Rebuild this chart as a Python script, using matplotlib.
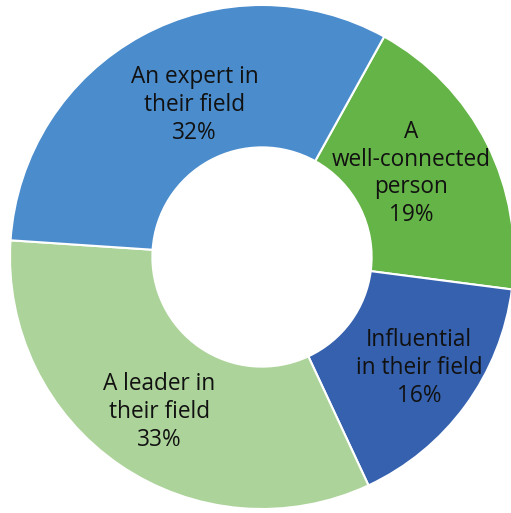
import numpy as np
import matplotlib.pyplot as plt

labels = ['A\nwell-connected\nperson', 'Influential\nin their field',
          'A leader in\ntheir field', 'An expert in\ntheir field']
values = [19, 16, 33, 32]
colors = ['#65b447', '#3561ae', '#acd39a', '#4a8ccc']

fig = plt.figure(figsize=(5.11, 5.13), dpi=100)
# pie centre at (262, 257) px, outer radius 252 px
ax = fig.add_axes([10 / 511, 4 / 513, 504 / 511, 504 / 513])

wedges, _ = ax.pie(values, colors=colors, startangle=61, counterclock=False,
                   radius=1, wedgeprops=dict(width=0.565, edgecolor='white', linewidth=1.5))
ax.set_xlim(-1, 1)
ax.set_ylim(-1, 1)
ax.set_aspect('equal')
ax.axis('off')

# label radius and small angle nudge (degrees) per wedge
label_r = [0.677, 0.763, 0.738, 0.66]
nudge = [2.5, 0.9, 0.8, -4.7]
for w, lab, v, r, dt in zip(wedges, labels, values, label_r, nudge):
    mid = np.radians((w.theta1 + w.theta2) / 2 + dt)
    ax.text(r * np.cos(mid), r * np.sin(mid), f'{lab}\n{v}%', ha='center', va='center',
            fontsize=16.3, family='Open Sans', linespacing=1.22, color='#111111')

fig.savefig('out.png', dpi=100)
